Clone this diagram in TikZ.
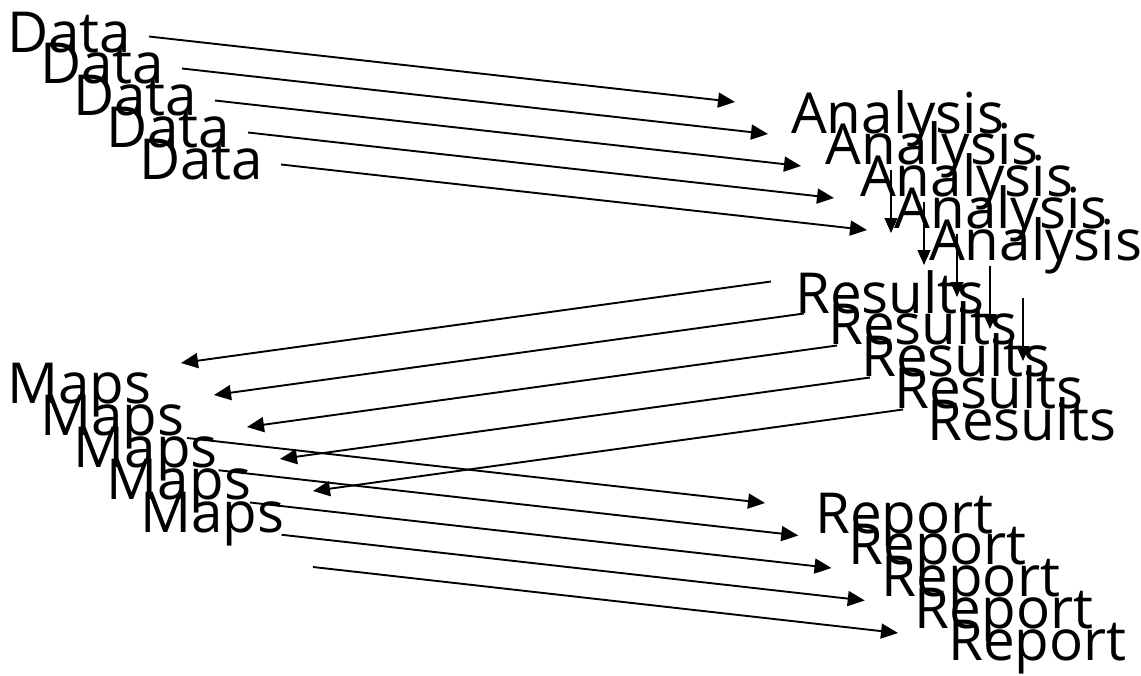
\documentclass[tikz,border=0pt]{standalone}
\usepackage{fontspec}
\setmainfont{Open Sans}
\usetikzlibrary{arrows.meta}
\tikzset{
  lbl/.style={anchor=base west, inner sep=0pt, font=\fontsize{56.5}{56.5}\selectfont},
  conn/.style={line width=1.9pt, -{Triangle[length=17pt,width=15pt]}},
  vconn/.style={line width=1.2pt, -{Triangle[length=15pt,width=13pt]}}
}
\begin{document}
\begin{tikzpicture}[x=1pt,y=-1pt]
\useasboundingbox (0,0) rectangle (1141,675);
\foreach \k in {0,...,4}{
  \node[lbl] (data\k) at ({7+33*\k},{52+31.75*\k}) {Data};
  \node[lbl] (analysis\k) at ({791+34.5*\k},{133+31.75*\k}) {Analysis};
  \node[lbl] (results\k) at ({795+33*\k},{313+31.75*\k}) {Results};
  \node[lbl] (maps\k) at ({7+33.25*\k},{403+32.25*\k}) {Maps};
  \node[lbl] (report\k) at ({815+33.25*\k},{533+31.75*\k}) {Report};
  \coordinate (das\k) at ({149+33*\k},{36.5+32*\k});
  \coordinate (dae\k) at ({735+33*\k},{102+32*\k});
  \coordinate (ars\k) at ({891+33*\k},{170+32*\k});
  \coordinate (are\k) at ({891+33*\k},{233+32*\k});
  \coordinate (rms\k) at ({771+33*\k},{281.5+32*\k});
  \coordinate (rme\k) at ({181+33*\k},{363+32*\k});
  \coordinate (mrs\k) at ({187+31.5*\k},{438+32.25*\k});
  \coordinate (mre\k) at ({765+33.25*\k},{503+32.5*\k});
  \draw[conn] (das\k) -- (dae\k);
  \draw[vconn] (ars\k) -- (are\k);
  \draw[conn] (rms\k) -- (rme\k);
  \draw[conn] (mrs\k) -- (mre\k);
}
\end{tikzpicture}
\end{document}
